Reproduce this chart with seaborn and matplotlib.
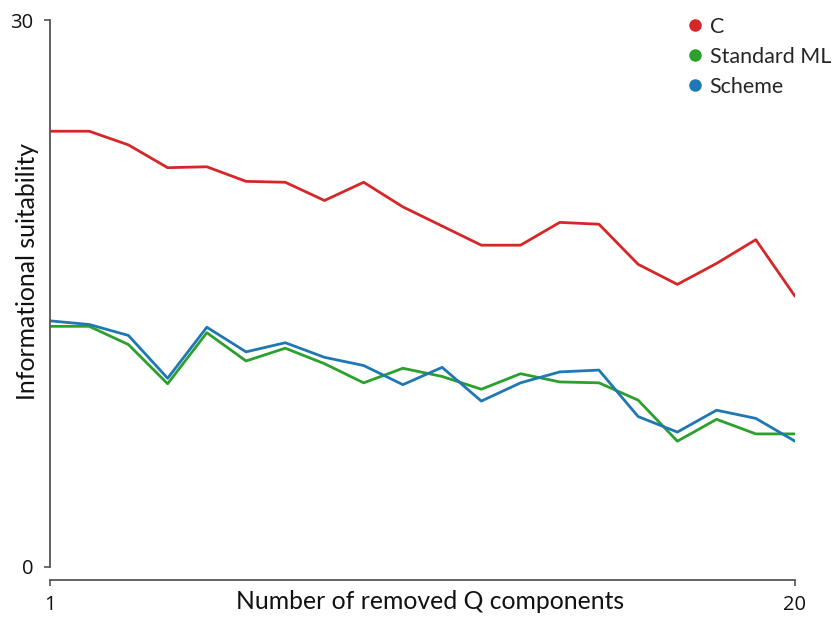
import matplotlib
matplotlib.use("Agg")
import matplotlib.pyplot as plt
from matplotlib.lines import Line2D
import seaborn as sns
import pandas as pd

components = list(range(1, 21))
series_names = ["C", "Standard ML", "Scheme"]
c_values = [23.9, 23.9, 23.15, 21.9, 21.95, 21.15, 21.1, 20.1, 21.1, 19.75,
            18.7, 17.65, 17.65, 18.9, 18.8, 16.6, 15.5, 16.65, 17.95, 14.85]
sml_values = [13.2, 13.2, 12.2, 10.05, 12.85, 11.3, 12.0, 11.15, 10.1, 10.9,
              10.45, 9.75, 10.6, 10.15, 10.1, 9.15, 6.9, 8.1, 7.3, 7.3]
scheme_values = [13.5, 13.3, 12.7, 10.35, 13.15, 11.8, 12.3, 11.5, 11.05, 10.0,
                 10.95, 9.1, 10.1, 10.7, 10.8, 8.25, 7.4, 8.6, 8.15, 6.9]
y_ticks = [0, 30]
x_ticks = [1, 20]
colors = ["#d62728", "#2ca02c", "#1f77b4"]

df = pd.DataFrame({
    "x": components * 3,
    "y": c_values + sml_values + scheme_values,
    "series": sum([[n] * len(components) for n in series_names], []),
})

sns.set_theme(style="white")
plt.rcParams["font.family"] = ["Lato", "DejaVu Sans"]

fig = plt.figure(figsize=(8.32, 6.17), dpi=100)
ax = fig.add_axes([50 / 832, 1 - 567 / 617, 745 / 832, 547 / 617])
palette = dict(zip(series_names, colors))
sns.lineplot(data=df, x="x", y="y", hue="series", palette=palette,
             linewidth=2.0, ax=ax, legend=False)

for s in ["top", "right"]:
    ax.spines[s].set_visible(False)
for s in ["left", "bottom"]:
    ax.spines[s].set_color("#555555")
    ax.spines[s].set_linewidth(1.3)
ax.spines["bottom"].set_position(("outward", 9))

ax.set_xlim(1, 20)
ax.set_ylim(0, 30)
ax.set_xticks(x_ticks)
ax.set_yticks(y_ticks)
tick_font = ["Open Sans", "DejaVu Sans"]
ax.set_xticklabels([str(t) for t in x_ticks], fontsize=14.5, family=tick_font, color="#111111")
ax.set_yticklabels([str(t) for t in y_ticks], fontsize=14.5, family=tick_font, color="#111111")
ax.tick_params(axis="both", which="both", length=4, width=1.2, color="#555555",
               direction="out", left=True, bottom=True, pad=8)
ax.tick_params(axis="x", pad=7)

ax.set_xlabel("Number of removed Q components", fontsize=17.8, color="#111111")
ax.set_ylabel("Informational suitability", fontsize=17.8, color="#111111")
ax.yaxis.set_label_coords((39 - 50) / 745, (567 - 271) / 547)
ax.xaxis.set_label_coords((430 - 50) / 745, -(590 - 567) / 547)

handles = [Line2D([0], [0], marker="o", linestyle="none", markersize=8,
                  markerfacecolor=c, markeredgecolor=c, label=n)
           for n, c in zip(series_names, colors)]
ax.legend(handles=handles, loc="upper left", bbox_to_anchor=(673 / 832, 1 - 8 / 617),
          bbox_transform=fig.transFigure, frameon=False, fontsize=15.5,
          handletextpad=0.1, labelspacing=0.47, borderaxespad=0, handlelength=1.2)

fig.savefig("out.png", dpi=100)
